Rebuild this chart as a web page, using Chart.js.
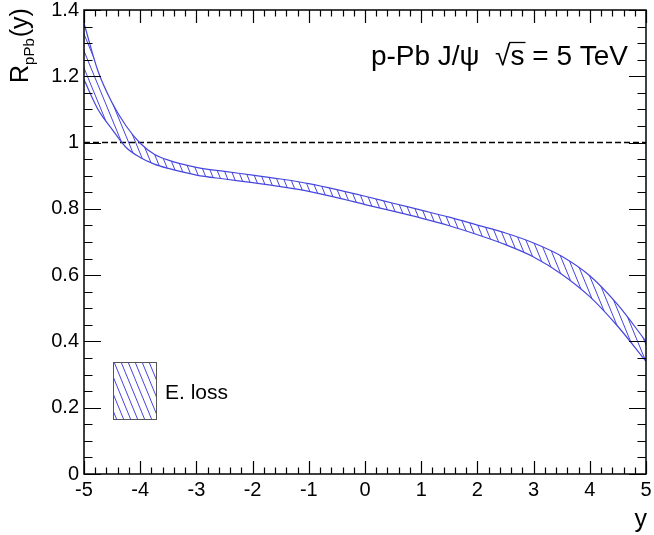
<!DOCTYPE html>
<html>
<head>
<meta charset="utf-8">
<script src="https://cdn.jsdelivr.net/npm/chart.js@4/dist/chart.umd.min.js"></script>
<style>
  html, body { margin: 0; padding: 0; background: #fff; }
  #wrap { width: 654px; height: 535px; }
</style>
</head>
<body>
<div id="wrap"><canvas id="c" width="654" height="535"></canvas></div>
<script>
// ---- data ----
const rapidity   = [-5, -4.75, -4.5, -4.25, -4, -3.75, -3.5, -3, -2.5, -2, -1.5, -1, -0.5, 0, 0.5, 1, 1.5, 2, 2.5, 3, 3.5, 4, 4.5, 5];
const eLossUpper = [1.36, 1.215, 1.12, 1.05, 0.998, 0.965, 0.947, 0.925, 0.913, 0.902, 0.89, 0.876, 0.858, 0.838, 0.817, 0.796, 0.775, 0.751, 0.727, 0.697, 0.657, 0.598, 0.51, 0.40];
const eLossLower = [1.19, 1.10, 1.04, 0.985, 0.955, 0.935, 0.922, 0.902, 0.89, 0.879, 0.867, 0.853, 0.834, 0.813, 0.793, 0.772, 0.749, 0.722, 0.692, 0.655, 0.603, 0.535, 0.445, 0.34];
const referenceLineX = [-5, 5];
const referenceLineY = [1, 1];
const xTicks = [-5, -4, -3, -2, -1, 0, 1, 2, 3, 4, 5];
const xTickLabels = ['-5', '-4', '-3', '-2', '-1', '0', '1', '2', '3', '4', '5'];
const yTicks = [0, 0.2, 0.4, 0.6, 0.8, 1.0, 1.2, 1.4];
const yTickLabels = ['0', '0.2', '0.4', '0.6', '0.8', '1', '1.2', '1.4'];
const legendLabel = 'E. loss';

const BLUE = 'rgb(70,70,222)';
const FONT = '"Liberation Sans", Arial, Helvetica, sans-serif';

// hatch pattern (\\\)
function makeHatch() {
  const w = 7, h = 17;
  const pc = document.createElement('canvas');
  pc.width = w; pc.height = h;
  const g = pc.getContext('2d');
  g.strokeStyle = BLUE;
  g.lineWidth = 1.0;
  for (let k = -1; k <= 1; k++) {
    g.beginPath();
    g.moveTo(-w + k * w, -h);
    g.lineTo(2 * w + k * w, 2 * h);
    g.stroke();
  }
  return document.getElementById('c').getContext('2d').createPattern(pc, 'repeat');
}
const hatch = makeHatch();

const decorPlugin = {
  id: 'decor',
  afterDatasetsDraw(chart) {
    const ctx = chart.ctx;
    const a = chart.chartArea;
    const xs = chart.scales.x, ys = chart.scales.y;
    ctx.save();
    ctx.strokeStyle = '#000';
    ctx.lineWidth = 1.5;
    ctx.strokeRect(a.left, a.top, a.right - a.left, a.bottom - a.top);
    ctx.lineWidth = 1.2;
    ctx.beginPath();
    // x ticks (bottom & top)
    for (let i = 0; i <= 50; i++) {
      const v = -5 + i * 0.2;
      const px = Math.round(xs.getPixelForValue(v)) + 0.5;
      const major = i % 5 === 0;
      const L = major ? 13 : 6.5;
      ctx.moveTo(px, a.bottom); ctx.lineTo(px, a.bottom - L);
      ctx.moveTo(px, a.top); ctx.lineTo(px, a.top + L);
    }
    // y ticks (left & right)
    for (let i = 0; i <= 28; i++) {
      const v = i * 0.05;
      const py = Math.round(ys.getPixelForValue(v)) + 0.5;
      const major = i % 4 === 0;
      const L = major ? 17 : 8.5;
      ctx.moveTo(a.left, py); ctx.lineTo(a.left + L, py);
      ctx.moveTo(a.right, py); ctx.lineTo(a.right - L, py);
    }
    ctx.stroke();

    // legend box
    const bx = 113, by = 362, bw = 43, bh = 57;
    ctx.fillStyle = hatch;
    ctx.fillRect(bx, by, bw, bh);
    ctx.strokeStyle = '#555';
    ctx.lineWidth = 1;
    ctx.strokeRect(bx + 0.5, by + 0.5, bw, bh);
    ctx.fillStyle = '#000';
    ctx.font = '21px ' + FONT;
    ctx.textAlign = 'left';
    ctx.textBaseline = 'alphabetic';
    ctx.fillText(legendLabel, 165, 399);

    // title text
    ctx.font = '28px ' + FONT;
    const p1 = 'p-Pb J/\u03C8  ', pr = '\u221A', ps = 's', p2 = ' = 5 TeV';
    const w1 = ctx.measureText(p1).width, wr = ctx.measureText(pr).width,
          wsx = ctx.measureText(ps).width, w2 = ctx.measureText(p2).width;
    let x0 = 628 - (w1 + wr + wsx + w2);
    const base = 65;
    ctx.fillText(p1, x0, base);
    ctx.fillText(pr, x0 + w1, base);
    ctx.fillText(ps, x0 + w1 + wr, base);
    ctx.fillText(p2, x0 + w1 + wr + wsx, base);
    ctx.lineWidth = 1.3;
    ctx.strokeStyle = '#000';
    ctx.beginPath();
    ctx.moveTo(x0 + w1 + wr - 1.5, base - 22.5);
    ctx.lineTo(x0 + w1 + wr + wsx + 1, base - 22.5);
    ctx.stroke();

    // x axis title
    ctx.font = '25px ' + FONT;
    ctx.textAlign = 'right';
    ctx.fillText('y', 647, 527);

    // y axis title (rotated)
    ctx.translate(28, 83);
    ctx.rotate(-Math.PI / 2);
    ctx.textAlign = 'left';
    ctx.font = '25px ' + FONT;
    ctx.fillText('R', 0, 0);
    const wR = ctx.measureText('R').width;
    ctx.font = '15px ' + FONT;
    ctx.fillText('pPb', wR, 6);
    const wS = ctx.measureText('pPb').width;
    ctx.font = '25px ' + FONT;
    ctx.fillText('(y)', wR + wS + 1, 0);
    ctx.restore();
  }
};

const toXY = (xsArr, ysArr) => xsArr.map((x, i) => ({ x: x, y: ysArr[i] }));
const zeroPad = s => { s.paddingTop = 0; s.paddingBottom = 0; s.paddingLeft = 0; s.paddingRight = 0; };

new Chart(document.getElementById('c'), {
  type: 'line',
  data: {
    datasets: [
      {
        label: legendLabel,
        data: toXY(rapidity, eLossUpper),
        borderColor: BLUE, borderWidth: 1.2, pointRadius: 0,
        cubicInterpolationMode: 'monotone',
        fill: '+1', backgroundColor: hatch
      },
      {
        label: legendLabel + ' low',
        data: toXY(rapidity, eLossLower),
        borderColor: BLUE, borderWidth: 1.2, pointRadius: 0,
        cubicInterpolationMode: 'monotone',
        fill: false
      },
      {
        label: 'unity',
        data: toXY(referenceLineX, referenceLineY),
        borderColor: '#000', borderWidth: 1.6, borderDash: [6, 3],
        pointRadius: 0, fill: false
      }
    ]
  },
  options: {
    responsive: false,
    animation: false,
    devicePixelRatio: 1,
    layout: { padding: { top: 10, right: 8, left: 0, bottom: 0 } },
    plugins: { legend: { display: false }, tooltip: { enabled: false }, title: { display: false } },
    scales: {
      x: {
        type: 'linear', min: -5, max: 5,
        grid: { display: false, drawTicks: false },
        border: { display: false },
        afterBuildTicks: s => { s.ticks = xTicks.map(v => ({ value: v })); },
        afterFit: s => { s.height = 61; zeroPad(s); },
        ticks: {
          callback: (v, i) => xTickLabels[i],
          font: { family: FONT, size: 20 }, color: '#000',
          padding: 4, maxRotation: 0, autoSkip: false
        }
      },
      y: {
        type: 'linear', min: 0, max: 1.4,
        grid: { display: false, drawTicks: false },
        border: { display: false },
        afterBuildTicks: s => { s.ticks = yTicks.map(v => ({ value: v })); },
        afterFit: s => { s.width = 84; zeroPad(s); },
        ticks: {
          callback: (v, i) => yTickLabels[i],
          font: { family: FONT, size: 20 }, color: '#000',
          padding: 5, autoSkip: false
        }
      }
    }
  },
  plugins: [decorPlugin]
});
</script>
</body>
</html>
